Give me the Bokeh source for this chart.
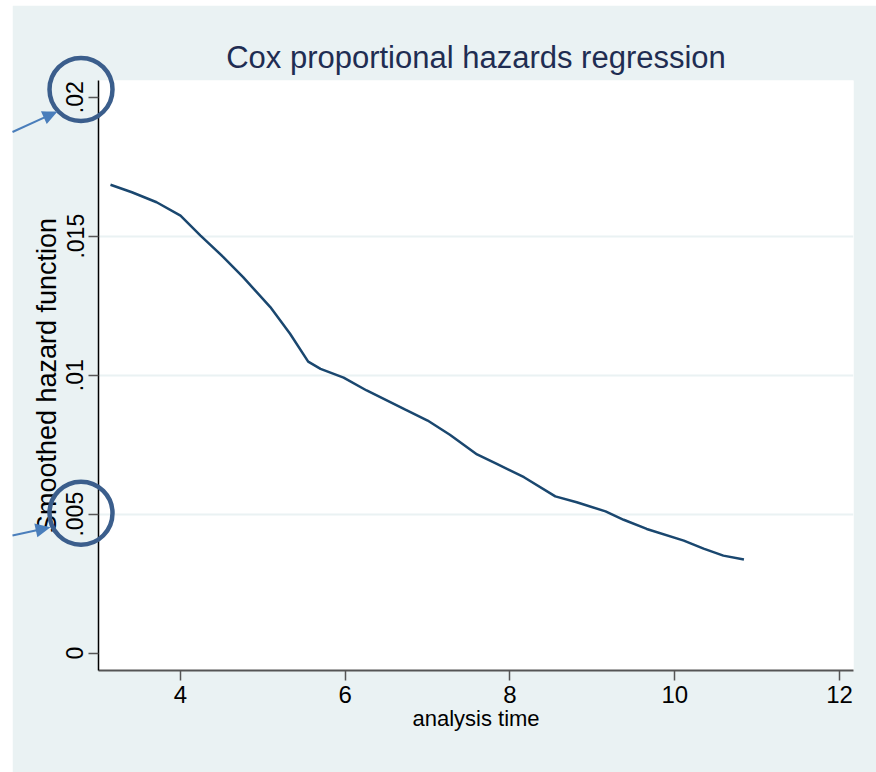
import math
from bokeh.plotting import figure
from bokeh.models import Range1d, FixedTicker
from bokeh.embed import file_html
from bokeh.resources import INLINE

# ---- data ----
analysis_time = [3.15, 3.41, 3.71, 4.00, 4.24, 4.52, 4.76, 5.09, 5.33, 5.55, 5.70,
                 5.98, 6.26, 6.73, 7.00, 7.27, 7.60, 7.84, 8.17, 8.55, 8.81, 9.16,
                 9.38, 9.66, 10.11, 10.35, 10.59, 10.84]
hazard = [0.01685, 0.01658, 0.01622, 0.01574, 0.01503, 0.01425, 0.01353, 0.01245,
          0.01149, 0.01049, 0.01023, 0.00991, 0.00945, 0.00876, 0.00837, 0.00786,
          0.00715, 0.00681, 0.00633, 0.00564, 0.00543, 0.00510, 0.00480, 0.00447,
          0.00405, 0.00376, 0.00351, 0.00337]
xticks = [4, 6, 8, 10, 12]
yticks = [0, 0.005, 0.01, 0.015, 0.02]
ytick_labels = ["0", ".005", ".01", ".015", ".02"]
highlighted_ticks = [0.02, 0.005]

BG = "#EAF2F3"
SANS = "'Liberation Sans', Arial, sans-serif"

x0, x1 = 3.0045, 12.17
y0, y1 = -0.000622, 0.0206
FW, FH = 755, 590
px_per_x = FW / (x1 - x0)
px_per_y = FH / (y1 - y0)

p = figure(frame_width=FW, frame_height=FH, min_border_left=86, min_border_right=23,
           min_border_top=75, min_border_bottom=102,
           x_range=Range1d(x0, x1), y_range=Range1d(y0, y1),
           output_backend="svg", toolbar_location=None,
           title="Cox proportional hazards regression")
p.margin = (5, 0, 0, 12)

p.background_fill_color = "white"
p.border_fill_color = BG
p.outline_line_color = None

p.title.align = "center"
p.title.text_font = SANS
p.title.text_font_size = "31px"
p.title.text_font_style = "normal"
p.title.text_color = "#1f2d52"
p.title.standoff = 12

# axes
p.xaxis.ticker = FixedTicker(ticks=xticks)
p.yaxis.ticker = FixedTicker(ticks=yticks)
p.yaxis.major_label_overrides = {t: s for t, s in zip(yticks, ytick_labels)}
p.yaxis.major_label_orientation = "vertical"
for ax in (p.xaxis, p.yaxis):
    ax.minor_tick_line_color = None
    ax.major_tick_in = 0
    ax.major_tick_out = 10
    ax.major_tick_line_color = "#555555"
    ax.major_tick_line_width = 1.5
    ax.major_label_text_color = "black"
    ax.axis_label_text_color = "black"
    ax.axis_label_text_font_style = "normal"
    ax.major_label_standoff = 5
    ax.major_label_text_font = SANS
    ax.axis_label_text_font = SANS

p.xaxis.axis_label = "analysis time"
p.xaxis.axis_line_color = "#555555"
p.xaxis.axis_line_width = 2
p.xaxis.major_label_text_font_size = "24px"
p.xaxis.axis_label_text_font_size = "22px"
p.xaxis.axis_label_standoff = 0

p.yaxis.axis_label = "Smoothed hazard function"
p.yaxis.axis_line_color = "black"
p.yaxis.axis_line_width = 1.5
p.yaxis.major_label_text_font_size = "23px"
p.yaxis.axis_label_text_font_size = "27px"
p.yaxis.axis_label_standoff = 2

# grid: only interior ticks
p.xgrid.visible = False
p.ygrid.ticker = FixedTicker(ticks=yticks[1:-1])
p.ygrid.grid_line_color = BG
p.ygrid.grid_line_width = 2

p.line(analysis_time, hazard, line_color="#1a476f", line_width=2.5)


# ---- call-outs around the highlighted tick labels (drawn on overlay level so
# they may extend into the left border). Offsets in px from frame-left / tick,
# dy positive = downward.
def to_data(t, dx, dy):
    return x0 + dx / px_per_x, t - dy / px_per_y


circle_off = {0.02: (-17.5, -7.7), 0.005: (-17.5, -1.0)}
arrow_off = {0.02: ((-86, 34.8), (-41, 14.3)), 0.005: ((-86, 21.4), (-48, 13.0))}
ARROW_C = "#4a7ebb"
HEAD_L, HEAD_W = 15, 7

for t in highlighted_ticks:
    cx, cy = to_data(t, *circle_off[t])
    p.scatter([cx], [cy], marker="circle", size=63, fill_color=None,
              line_color="#3b5e8c", line_width=4.5, level="overlay")

    (sx, sy), (ex, ey) = arrow_off[t]
    L = math.hypot(ex - sx, ey - sy)
    ux, uy = (ex - sx) / L, (ey - sy) / L
    nx, ny = -uy, ux
    bx, by = ex - ux * HEAD_L, ey - uy * HEAD_L
    a0, b0 = to_data(t, sx, sy)
    a1, b1 = to_data(t, bx + ux * 2, by + uy * 2)
    p.segment([a0], [b0], [a1], [b1], line_color=ARROW_C, line_width=2, level="overlay")
    # arrow head as a filled triangle (varea between lower and upper edges)
    verts = [to_data(t, ex, ey),
             to_data(t, bx + nx * HEAD_W, by + ny * HEAD_W),
             to_data(t, bx - nx * HEAD_W, by - ny * HEAD_W)]
    verts.sort()
    (xa, ya), (xb, yb), (xc, yc) = verts
    y_ac = ya + (yc - ya) * (xb - xa) / (xc - xa)
    p.varea(x=[xa, xb, xc], y1=[ya, min(yb, y_ac), yc], y2=[ya, max(yb, y_ac), yc],
            fill_color=ARROW_C, level="overlay")

open("out.html", "w").write(file_html(p, INLINE))
